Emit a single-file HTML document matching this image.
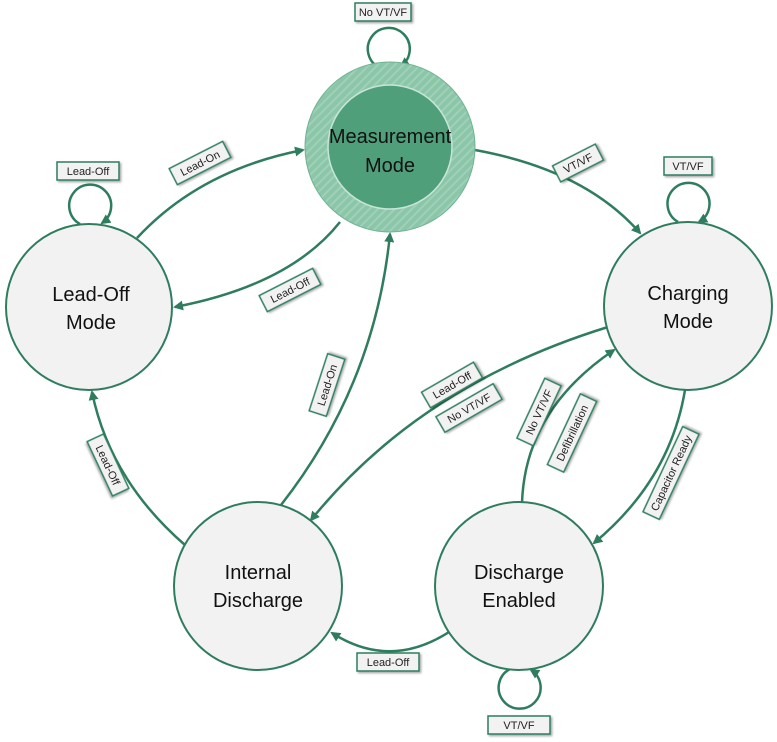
<!DOCTYPE html>
<html><head><meta charset="utf-8"><style>
html,body{margin:0;padding:0;background:#fff;width:777px;height:742px;overflow:hidden}
text{font-family:"Liberation Sans",sans-serif}
</style></head><body>
<svg width="777" height="742" viewBox="0 0 777 742" xmlns="http://www.w3.org/2000/svg">
<defs>
<marker id="a" markerWidth="10" markerHeight="10" refX="8" refY="5" orient="auto" markerUnits="userSpaceOnUse">
<path d="M0,0 L10,5 L0,10 z" fill="#2f7d5e"/></marker>
<pattern id="h" width="6" height="6" patternUnits="userSpaceOnUse" patternTransform="rotate(45)">
<rect width="6" height="6" fill="#8cc6a9"/><rect width="2" height="6" fill="#9fd0b8"/></pattern>
<filter id="s" x="-20%" y="-20%" width="150%" height="160%"><feDropShadow dx="1.5" dy="1.5" stdDeviation="1" flood-opacity="0.35"/></filter>
</defs>
<g fill="none" stroke="#2f7d5e" stroke-width="2.5" marker-end="url(#a)">
<path d="M475,150 Q585,170 640,233"/>
<path d="M137,238 Q200,170 303,150"/>
<path d="M340,222 Q290,285 175,307"/>
<path d="M608,327 Q420,385 311,520"/>
<path d="M281,505 Q375,385 390,234"/>
<path d="M185,545 Q110,480 92,392"/>
<path d="M522,503 Q525,410 614,350"/>
<path d="M685,390 Q670,480 594,543"/>
<path d="M449,632 Q390,670 332,633"/>
<path d="M380,68 A21,21 0 1 1 401,66"/>
<path d="M80,224 A21,21 0 1 1 102,223"/>
<path d="M678,222 A21,21 0 1 1 699,222"/>
<path d="M510,669 A21,21 0 1 0 531,670"/>
</g>
<g stroke="#2f7d5e" stroke-width="2">
<circle cx="89" cy="307" r="83" fill="#f2f2f2"/>
<circle cx="688" cy="306" r="84" fill="#f2f2f2"/>
<circle cx="258" cy="586" r="84" fill="#f2f2f2"/>
<circle cx="519" cy="586" r="84" fill="#f2f2f2"/>
</g>
<circle cx="390" cy="147" r="85" fill="url(#h)" stroke="#6fb393" stroke-width="1"/>
<circle cx="390" cy="147" r="62" fill="#4f9f7b" stroke="#c8e6d8" stroke-width="1.5"/>
<g font-size="20" text-anchor="middle" fill="#111">
<text x="390" y="143">Measurement</text><text x="390" y="172">Mode</text>
<text x="91" y="301">Lead-Off</text><text x="91" y="329">Mode</text>
<text x="688" y="300">Charging</text><text x="688" y="328">Mode</text>
<text x="258" y="579">Internal</text><text x="258" y="607">Discharge</text>
<text x="519" y="579">Discharge</text><text x="519" y="607">Enabled</text>
</g>
<g font-size="11" text-anchor="middle" fill="#222">
<g transform="translate(383,12)"><rect x="-28" y="-9" width="56" height="18" fill="#f2f2f2" stroke="#2f7d5e" stroke-width="1.5" filter="url(#s)"/><text y="4">No VT/VF</text></g>
<g transform="translate(88,171)"><rect x="-31" y="-9" width="62" height="18" fill="#f2f2f2" stroke="#2f7d5e" stroke-width="1.5" filter="url(#s)"/><text y="4">Lead-Off</text></g>
<g transform="translate(688,166)"><rect x="-24" y="-9" width="48" height="18" fill="#f2f2f2" stroke="#2f7d5e" stroke-width="1.5" filter="url(#s)"/><text y="4">VT/VF</text></g>
<g transform="translate(200,163) rotate(-27)"><rect x="-30" y="-9" width="60" height="18" fill="#f2f2f2" stroke="#2f7d5e" stroke-width="1.5" filter="url(#s)"/><text y="4">Lead-On</text></g>
<g transform="translate(578,163) rotate(-27)"><rect x="-24" y="-9" width="48" height="18" fill="#f2f2f2" stroke="#2f7d5e" stroke-width="1.5" filter="url(#s)"/><text y="4">VT/VF</text></g>
<g transform="translate(290,290) rotate(-27)"><rect x="-30" y="-9" width="60" height="18" fill="#f2f2f2" stroke="#2f7d5e" stroke-width="1.5" filter="url(#s)"/><text y="4">Lead-Off</text></g>
<g transform="translate(327,385) rotate(-72)"><rect x="-30" y="-9" width="60" height="18" fill="#f2f2f2" stroke="#2f7d5e" stroke-width="1.5" filter="url(#s)"/><text y="4">Lead-On</text></g>
<g transform="translate(452,385) rotate(-30)"><rect x="-30" y="-9" width="60" height="18" fill="#f2f2f2" stroke="#2f7d5e" stroke-width="1.5" filter="url(#s)"/><text y="4">Lead-Off</text></g>
<g transform="translate(469,408) rotate(-30)"><rect x="-33" y="-9" width="66" height="18" fill="#f2f2f2" stroke="#2f7d5e" stroke-width="1.5" filter="url(#s)"/><text y="4">No VT/VF</text></g>
<g transform="translate(539,412) rotate(-65)"><rect x="-33" y="-9" width="66" height="18" fill="#f2f2f2" stroke="#2f7d5e" stroke-width="1.5" filter="url(#s)"/><text y="4">No VT/VF</text></g>
<g transform="translate(572,433) rotate(-65)"><rect x="-39" y="-9" width="78" height="18" fill="#f2f2f2" stroke="#2f7d5e" stroke-width="1.5" filter="url(#s)"/><text y="4">Defibrillation</text></g>
<g transform="translate(671,473) rotate(-65)"><rect x="-47" y="-9" width="94" height="18" fill="#f2f2f2" stroke="#2f7d5e" stroke-width="1.5" filter="url(#s)"/><text y="4">Capacitor Ready</text></g>
<g transform="translate(108,465) rotate(65)"><rect x="-30" y="-9" width="60" height="18" fill="#f2f2f2" stroke="#2f7d5e" stroke-width="1.5" filter="url(#s)"/><text y="4">Lead-Off</text></g>
<g transform="translate(388,662)"><rect x="-31" y="-9" width="62" height="18" fill="#f2f2f2" stroke="#2f7d5e" stroke-width="1.5" filter="url(#s)"/><text y="4">Lead-Off</text></g>
<g transform="translate(519,725)"><rect x="-31" y="-9" width="62" height="18" fill="#f2f2f2" stroke="#2f7d5e" stroke-width="1.5" filter="url(#s)"/><text y="4">VT/VF</text></g>
</g>
</svg>
</body></html>
